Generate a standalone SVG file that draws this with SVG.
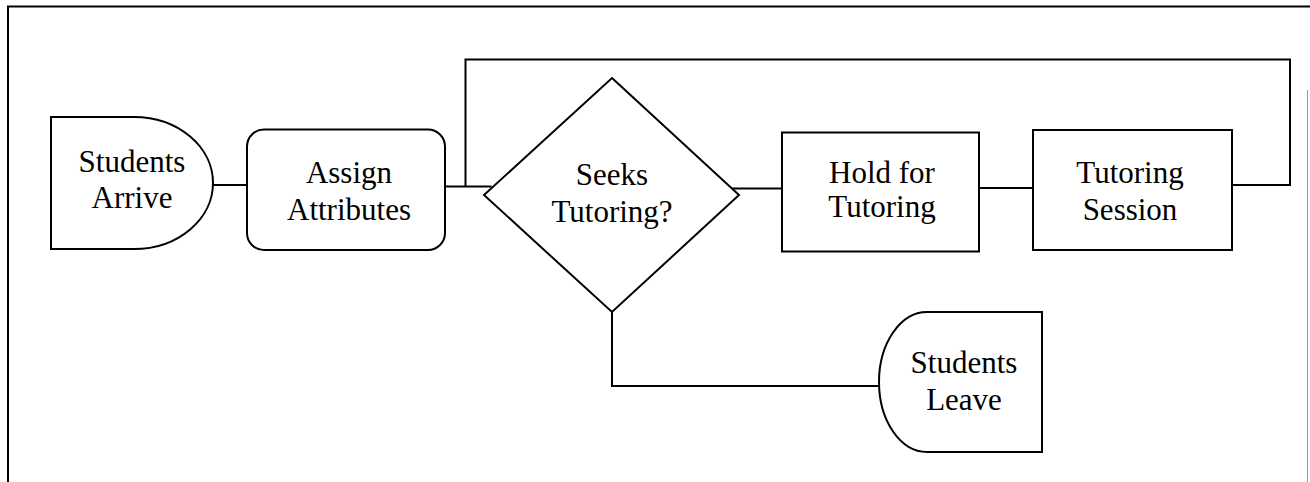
<svg xmlns="http://www.w3.org/2000/svg" width="1310" height="482" viewBox="0 0 1310 482">
  <style>
    .shape { fill: #fff; stroke: #000; stroke-width: 2; }
    .wire { fill: none; stroke: #000; stroke-width: 2; }
    .label { font-family: "Liberation Serif", "Times New Roman", serif; font-size: 31px; fill: #000; text-anchor: middle; }
  </style>
  <rect x="0" y="0" width="1310" height="482" fill="#fff"/>

  <!-- frame -->
  <g id="frame">
    <path class="wire" d="M8,482 V6.5 H1310"/>
    <path d="M1307.5,90 V482" fill="none" stroke="#999" stroke-width="1"/>
  </g>

  <!-- connectors -->
  <g id="connectors">
    <path class="wire" d="M213,185 H247"/>
    <path class="wire" d="M445,186.5 H491.5"/>
    <path class="wire" d="M465.5,186.5 V59.5 H1290 V185 H1232"/>
    <path class="wire" d="M731,188.5 H782"/>
    <path class="wire" d="M979,188 H1033"/>
    <path class="wire" d="M612,312 V386 H879"/>
  </g>

  <g id="students-arrive">
    <path class="shape" d="M51,117 H134 A79,66 0 0 1 134,249 H51 Z"/>
    <text class="label" x="132" y="172">Students</text>
    <text class="label" x="132" y="208">Arrive</text>
  </g>

  <g id="assign-attributes">
    <rect class="shape" x="247" y="129.5" width="198" height="120.5" rx="17" ry="17"/>
    <text class="label" x="349" y="183">Assign</text>
    <text class="label" x="349" y="220">Attributes</text>
  </g>

  <g id="seeks-tutoring">
    <polygon class="shape" points="612,78 739,195 612,312 484,195"/>
    <text class="label" x="612" y="185">Seeks</text>
    <text class="label" x="612" y="222">Tutoring?</text>
  </g>

  <g id="hold-for-tutoring">
    <rect class="shape" x="782" y="132.5" width="197" height="119"/>
    <text class="label" x="882" y="183">Hold for</text>
    <text class="label" x="882" y="217">Tutoring</text>
  </g>

  <g id="tutoring-session">
    <rect class="shape" x="1033" y="130" width="199" height="120"/>
    <text class="label" x="1130" y="183">Tutoring</text>
    <text class="label" x="1130" y="220">Session</text>
  </g>

  <g id="students-leave">
    <path class="shape" d="M1042,312 H927 A48,70 0 0 0 927,452 H1042 Z"/>
    <text class="label" x="964" y="373">Students</text>
    <text class="label" x="964" y="410">Leave</text>
  </g>
</svg>
